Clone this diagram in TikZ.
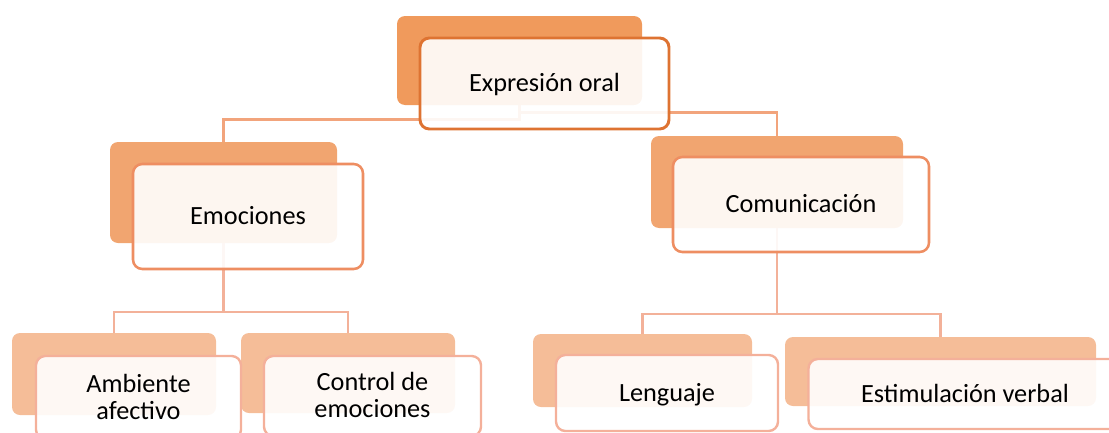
\documentclass[tikz,border=0pt]{standalone}
\usepackage{fontspec}
\setmainfont{Carlito}
\definecolor{backA}{HTML}{F09A5C}
\definecolor{lineA}{HTML}{DE7332}
\definecolor{backB}{HTML}{F1A570}
\definecolor{lineB}{HTML}{EE8E62}
\definecolor{backC}{HTML}{F5BD98}
\definecolor{lineC}{HTML}{F4B09A}
\definecolor{connA}{HTML}{F2A47C}
\definecolor{connB}{HTML}{F3B199}
\tikzset{
  backbox/.style={rectangle, rounded corners=6pt, inner sep=0pt, draw=none},
  frontbox/.style={rectangle, rounded corners=7pt, inner sep=0pt, fill=white, fill opacity=0.9, text opacity=1,
     align=center, text height=12.7pt, text depth=0pt,
     font=\fontsize{19.7pt}{20.25pt}\selectfont},
  twoline/.style={text height=32.95pt},
  backA/.style={backbox, fill=backA},
  backB/.style={backbox, fill=backB},
  backC/.style={backbox, fill=backC},
  frontA/.style={frontbox, draw=lineA, line width=2.2pt},
  frontB/.style={frontbox, draw=lineB, line width=1.9pt},
  frontC/.style={frontbox, draw=lineC, line width=1.8pt},
  connA/.style={draw=connA, line width=1.9pt},
  connB/.style={draw=connB, line width=1.8pt},
}
\begin{document}
\begin{tikzpicture}[x=0.75pt,y=-0.75pt]
\useasboundingbox (0,0) rectangle (1109,432);
\clip (0,0) rectangle (1109,432);
% back boxes
\node[backA, minimum width=183.75pt, minimum height=66.75pt] (b1) at (519.5,60.5) {};
\node[backB, minimum width=170.25pt, minimum height=75.75pt] (b2) at (223.5,192.5) {};
\node[backB, minimum width=189pt, minimum height=69pt] (b3) at (777,182) {};
\node[backC, minimum width=153pt, minimum height=61.5pt] (b4) at (114,374) {};
\node[backC, minimum width=160.5pt, minimum height=60pt] (b5) at (348,373) {};
\node[backC, minimum width=164.25pt, minimum height=54.75pt] (b6) at (642.5,370.5) {};
\node[backC, minimum width=233.25pt, minimum height=51.75pt] (b7) at (940.5,371.5) {};
% connectors
\path[connA] (b1.south) -- ++(0,14) -| (b2.north);
\path[connA] (b1.south) -- ++(0,7) -| (b3.north);
\path[connB] (b2.south) -- ++(0,69) -| (b4.north);
\path[connB] (b2.south) -- ++(0,69) -| (b5.north);
\path[connB] (b3.south) -- ++(0,86) -| (b6.north);
\path[connB] (b3.south) -- ++(0,86) -| (b7.north);
% front boxes with text
\node[frontA, minimum width=186.75pt, minimum height=68.25pt] (f1) at (544.5,83.5) {Expresión oral};
\node[frontB, minimum width=172.5pt, minimum height=78.75pt] (f2) at (248,216.5) {Emociones};
\node[frontB, minimum width=192pt, minimum height=71.25pt] (f3) at (801,204.5) {Comunicación};
\node[frontC, twoline, minimum width=153.75pt, minimum height=62.25pt] (f4) at (138.5,397.5) {Ambiente\\afectivo};
\node[frontC, twoline, minimum width=162.75pt, minimum height=60pt] (f5) at (372.5,396) {Control de\\emociones};
\node[frontC, minimum width=166.5pt, minimum height=57pt] (f6) at (667,393) {Lenguaje};
\node[frontC, minimum width=234.75pt, minimum height=52.5pt] (f7) at (965,394) {Estimulación verbal};
\end{tikzpicture}
\end{document}
